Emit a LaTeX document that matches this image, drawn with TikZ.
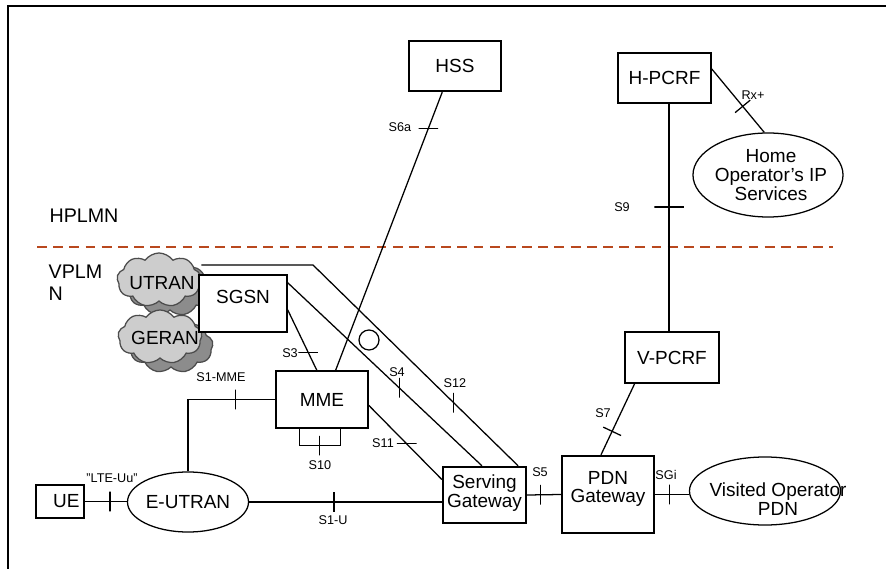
\documentclass[tikz,border=0pt]{standalone}
\usepackage{fontspec}
\setmainfont{Liberation Sans}
\usetikzlibrary{shapes.geometric,shapes.symbols}
\definecolor{plmnline}{RGB}{185,72,30}
\definecolor{cloudlight}{RGB}{205,205,205}
\definecolor{clouddark}{RGB}{140,140,140}

\begin{document}
\begin{tikzpicture}[x=0.025cm,y=-0.025cm,line width=0.9pt,
  every node/.style={font=\fontsize{13.5}{15}\selectfont},
  box/.style={draw,rectangle,inner sep=0pt},
  bigbox/.style={box,line width=1.7pt},
  oval/.style={draw,ellipse,inner sep=0pt},
  lbl/.style={font=\fontsize{9}{10}\selectfont,inner sep=1pt},
  vtick/.style={draw,inner sep=0pt,outer sep=0pt,minimum width=0pt,minimum height=14pt},
  htick/.style={draw,inner sep=0pt,outer sep=0pt,minimum width=14pt,minimum height=0pt},
  cloudfront/.style={cloud,cloud puffs=9,cloud puff arc=110,cloud ignores aspect,draw=black!70,fill=cloudlight,
    minimum width=2.1cm,minimum height=1.35cm,inner sep=0pt},
  cloudback/.style={cloudfront,fill=clouddark}]
\useasboundingbox (0,0) rectangle (886,569);
\draw[line width=1pt] (900,6) -- (8,6) -- (8,580);

\coordinate (dashL) at (37,247);
\coordinate (dashR) at (833,247);
\draw[plmnline,line width=2pt,dash pattern=on 7pt off 4.5pt] (dashL) -- (dashR);
\node[font=\fontsize{14}{16}\selectfont] (hplmn) at (84,216) {HPLMN};
\node[font=\fontsize{14}{16}\selectfont,anchor=north west,align=left,inner sep=0pt] (vplmn) at (48,264) {VPLM\\N};

\node[cloudback] (utranbg) at (170,289) {};
\node[cloudfront] (utrancl) at (159,280) {};
\node (UTRAN) at (162,283) {UTRAN};
\node[cloudback] (geranbg) at (171,346) {};
\node[cloudfront] (gerancl) at (160,337) {};
\node (GERAN) at (165,338) {GERAN};

\node[bigbox,minimum width=2.3cm,minimum height=1.25cm] (HSS) at (455,66) {HSS};
\node[box,minimum width=2.325cm,minimum height=1.25cm] (HPCRF) at (664.5,78) {H-PCRF};
\node[oval,minimum width=3.75cm,minimum height=2.1cm] (home) at (768,175) {};
\node[align=center,font=\fontsize{13.5}{13.5}\selectfont] (homeText) at (771,175)
  {Home\\Operator's IP\\Services};
\node[box,fill=white,minimum width=2.2cm,minimum height=1.425cm,text depth=9pt] (SGSN) at (243,303.5) {SGSN};
\node[box,minimum width=2.3cm,minimum height=1.425cm] (MME) at (322,399.5) {MME};
\node[box,minimum width=2.35cm,minimum height=1.275cm] (VPCRF) at (672,357.5) {V-PCRF};
\node[bigbox,minimum width=2.075cm,minimum height=1.4cm,align=center,
  font=\fontsize{13.5}{13}\selectfont,text depth=5.5pt] (SGW) at (484.5,495) {Serving\\Gateway};
\node[bigbox,minimum width=2.3cm,minimum height=1.925cm,align=center,
  font=\fontsize{13.5}{13}\selectfont,text depth=10.5pt] (PDN) at (608,494.5) {PDN\\Gateway};
\node[oval,minimum width=3.775cm,minimum height=1.7cm] (visited) at (765,491) {};
\node[align=center,font=\fontsize{13.5}{13}\selectfont] (visitedText) at (778,499) {Visited Operator\\PDN};
\node[box,minimum width=1.2cm,minimum height=0.825cm] (UE) at (60,501.5) {\hspace*{9pt}UE};
\node[oval,minimum width=3.025cm,minimum height=1.5cm] (EUTRAN) at (188,502) {E-UTRAN};
\node[draw,circle,minimum size=0.5cm,inner sep=0pt] (ring) at (369,340) {};

\draw (HSS.244) -- node[htick,pos=0.13] {} (MME.65);
\draw (HPCRF.280) -- node[htick,minimum width=21pt,pos=0.454] {} (HPCRF.280 |- VPCRF.north);
\draw (HPCRF.11) -- node[vtick,sloped,pos=0.59] {} (home.95);
\draw (PDN.100) -- node[vtick,sloped,pos=0.33] {} (VPCRF.215);
\draw (SGW.east) -- node[vtick,pos=0.39] {} (PDN.west);
\draw (PDN.east) -- node[vtick,pos=0.42] {} (PDN.east -| visited.west);
\draw (UE.east) -- node[vtick,pos=0.6] {} (UE.east -| EUTRAN.west);
\draw (EUTRAN.east) -- node[vtick,pos=0.44] {} (EUTRAN.east -| SGW.west);
\draw (MME.west) -| node[vtick,pos=0.227] {} (EUTRAN.north);
\draw (MME.232) -- ++(0,17) -| node[vtick,pos=0.25] {} (MME.302);
\draw (SGSN.352) -- node[htick,pos=0.7] {} (MME.100);
\draw (SGSN.25) -- node[vtick,pos=0.574] {} (SGW.95);
\coordinate (bend) at (313,265);
\draw (utrancl.east |- bend) -- (bend) -- node[vtick,pos=0.686] {} (SGW.41);
\draw (MME.353) -- node[htick,pos=0.52] {} (SGW.160);

\node[lbl] (lS6a) at (400,127) {S6a};
\node[lbl] (lRx) at (753,95) {Rx+};
\node[lbl] (lS9) at (622,207) {S9};
\node[lbl] (lS3) at (290,353) {S3};
\node[lbl] (lS4) at (397,372) {S4};
\node[lbl] (lS12) at (455,383) {S12};
\node[lbl] (lS1mme) at (221,377) {S1-MME};
\node[lbl] (lS10) at (320,465) {S10};
\node[lbl] (lS11) at (383,443) {S11};
\node[lbl] (lLTE) at (112,478) {"LTE-Uu"};
\node[lbl] (lS1u) at (333,520) {S1-U};
\node[lbl] (lS5) at (540,472) {S5};
\node[lbl] (lS7) at (603,413) {S7};
\node[lbl] (lSGi) at (666,475) {SGi};
\end{tikzpicture}
\end{document}
